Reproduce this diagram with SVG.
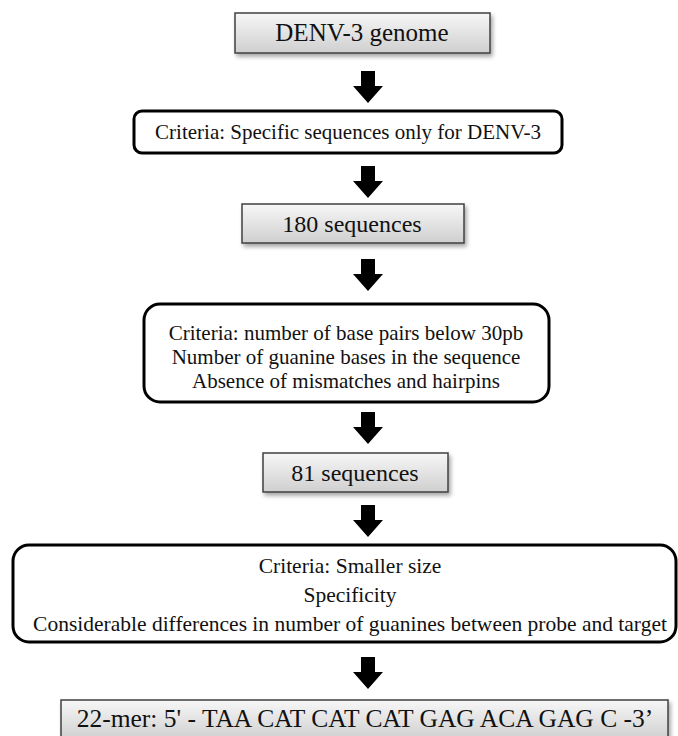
<svg xmlns="http://www.w3.org/2000/svg" width="678" height="736" viewBox="0 0 678 736">
<defs>
<linearGradient id="g" x1="0" y1="0" x2="0" y2="1">
<stop offset="0" stop-color="#f7f7f7"/>
<stop offset="1" stop-color="#cfcfcf"/>
</linearGradient>
<filter id="sh" x="-5%" y="-20%" width="110%" height="150%">
<feDropShadow dx="2" dy="3" stdDeviation="2" flood-color="#000" flood-opacity="0.35"/>
</filter>
<path id="arr" d="M-7,0 H7 V15 H15 L0,32 L-15,15 H-7 Z" fill="#000"/>
</defs>
<style>
.gb{fill:url(#g);stroke:#404040;stroke-width:1.5;filter:url(#sh)}
.rb{fill:#fff;stroke:#000;stroke-width:3}
text{font-family:"Liberation Serif","Times New Roman",serif;fill:#111;text-anchor:middle}
</style>
<rect width="678" height="736" fill="#fff"/>
<g id="connectors">
<use href="#arr" x="368" y="71"/>
<use href="#arr" x="368" y="166"/>
<use href="#arr" x="368" y="259"/>
<use href="#arr" x="368" y="412"/>
<use href="#arr" x="368" y="505"/>
<use href="#arr" x="368" y="657"/>
</g>
<g id="n1"><rect class="gb" x="235" y="13" width="255" height="40"/><text x="362" y="41" font-size="25">DENV-3 genome</text></g>
<g id="n2"><rect class="rb" x="134" y="111" width="428" height="42" rx="8"/><text x="348" y="139" font-size="21">Criteria: Specific sequences only for DENV-3</text></g>
<g id="n3"><rect class="gb" x="242" y="204" width="222" height="39"/><text x="352" y="232" font-size="24">180 sequences</text></g>
<g id="n4"><rect class="rb" x="144" y="304" width="405" height="98" rx="16"/>
<text x="346" y="340" font-size="21">Criteria: number of base pairs below 30pb</text>
<text x="346" y="364" font-size="21">Number of guanine bases in the sequence</text>
<text x="346" y="388" font-size="21">Absence of mismatches and hairpins</text></g>
<g id="n5"><rect class="gb" x="263" y="453" width="185" height="39"/><text x="355" y="481" font-size="24">81 sequences</text></g>
<g id="n6"><rect class="rb" x="13" y="545" width="663" height="97" rx="16"/>
<text x="350" y="573" font-size="21.5">Criteria: Smaller size</text>
<text x="350" y="602" font-size="21.5">Specificity</text>
<text x="350" y="631" font-size="21.5">Considerable differences in number of guanines between probe and target</text></g>
<g id="n7"><rect class="gb" x="61" y="700" width="607" height="40"/><text x="365" y="727" font-size="25.5">22-mer: 5' - TAA CAT CAT CAT GAG ACA GAG C -3’</text></g>
</svg>
